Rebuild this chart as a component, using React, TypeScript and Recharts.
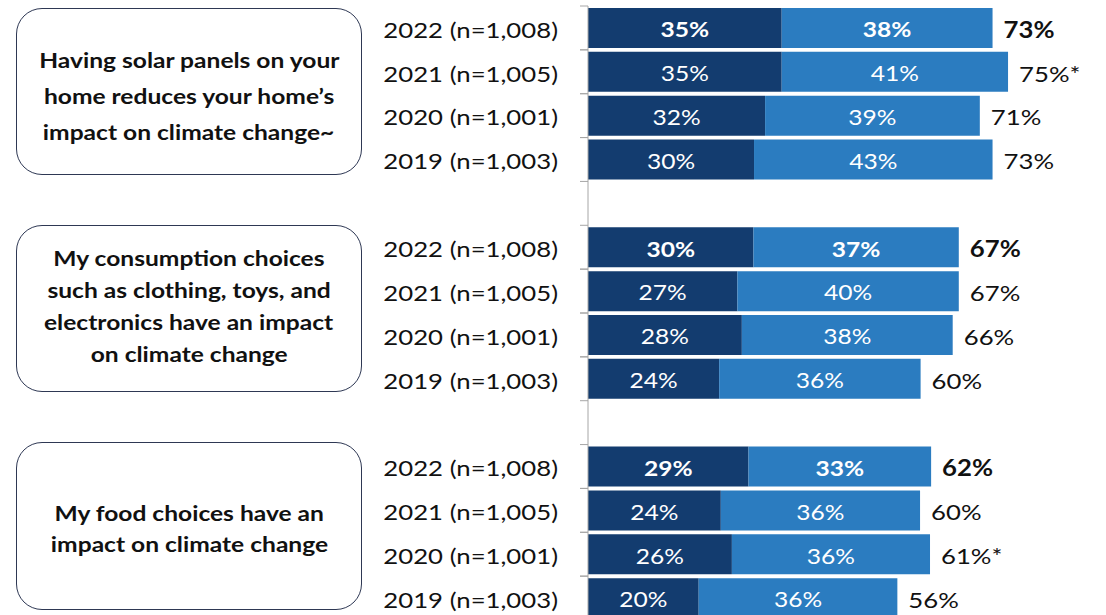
import React from "react";
import { BarChart, Bar, XAxis, YAxis, LabelList } from "recharts";

// ---------- data ----------
const years = ["2022 (n=1,008)", "2021 (n=1,005)", "2020 (n=1,001)", "2019 (n=1,003)"];
const statements = [
  ["Having solar panels on your", "home reduces your home\u2019s", "impact on climate change~"],
  ["My consumption choices", "such as clothing, toys, and", "electronics have an impact", "on climate change"],
  ["My food choices have an", "impact on climate change"],
];
const darkValues1 = [35, 35, 32, 30];
const lightValues1 = [38.1, 40.9, 38.8, 43.1];
const darkLabels1 = ["35%", "35%", "32%", "30%"];
const lightLabels1 = ["38%", "41%", "39%", "43%"];
const totalLabels1 = ["73%", "75%*", "71%", "73%"];

const darkValues2 = [29.9, 27, 27.8, 23.7];
const lightValues2 = [37.1, 40, 38.1, 36.4];
const darkLabels2 = ["30%", "27%", "28%", "24%"];
const lightLabels2 = ["37%", "40%", "38%", "36%"];
const totalLabels2 = ["67%", "67%", "66%", "60%"];

const darkValues3 = [29, 24, 26, 20];
const lightValues3 = [33, 36, 35.8, 35.9];
const darkLabels3 = ["29%", "24%", "26%", "20%"];
const lightLabels3 = ["33%", "36%", "36%", "36%"];
const totalLabels3 = ["62%", "60%", "61%*", "56%"];

const groups = [
  { dark: darkValues1, light: lightValues1, dl: darkLabels1, ll: lightLabels1, tl: totalLabels1 },
  { dark: darkValues2, light: lightValues2, dl: darkLabels2, ll: lightLabels2, tl: totalLabels2 },
  { dark: darkValues3, light: lightValues3, dl: darkLabels3, ll: lightLabels3, tl: totalLabels3 },
];

type Row = {
  key: string;
  year: string;
  dark: number | null;
  light: number | null;
  darkLabel?: string;
  lightLabel?: string;
  totalLabel?: string;
  bold: boolean;
};

const rows: Row[] = [];
groups.forEach((g, gi) => {
  years.forEach((y, i) => {
    rows.push({
      key: `g${gi}-${i}`,
      year: y,
      dark: g.dark[i],
      light: g.light[i],
      darkLabel: g.dl[i],
      lightLabel: g.ll[i],
      totalLabel: g.tl[i],
      bold: i === 0,
    });
  });
  if (gi < groups.length - 1) {
    rows.push({ key: `gap${gi}`, year: "", dark: null, light: null, bold: false });
  }
});
const rowByKey: Record<string, Row> = {};
rows.forEach((r) => (rowByKey[r.key] = r));

// ---------- layout / style ----------
const W = 1106;
const H = 625;
const MARGIN = { top: 6, right: 0, bottom: 5, left: 0 };
const YAXIS_W = 588;
const AXIS_X = MARGIN.left + YAXIS_W;
const BAND = (H - MARGIN.top - MARGIN.bottom) / rows.length;
const DARK = "#133c6f";
const LIGHT = "#2b7cc0";
const FONT = "Lato, 'Open Sans', sans-serif";
const SX = 1.17;

const STxt = ({ x, y, anchor, children, fill, bold, size }: any) => (
  <text
    transform={`translate(${x},${y}) scale(${SX},1)`}
    textAnchor={anchor}
    dominantBaseline="central"
    fill={fill}
    fontFamily={FONT}
    fontSize={size}
    fontWeight={bold ? 700 : 400}
  >
    {children}
  </text>
);

const YTick = (props: any) => {
  const { y, payload } = props;
  const row = rowByKey[payload && payload.value];
  if (!row || row.dark == null) return null;
  return (
    <g>
      <line x1={AXIS_X - 8} x2={AXIS_X} y1={y - BAND / 2} y2={y - BAND / 2} stroke="#a6a6a6" strokeWidth={1} />
      <line x1={AXIS_X - 8} x2={AXIS_X} y1={y + BAND / 2} y2={y + BAND / 2} stroke="#a6a6a6" strokeWidth={1} />
      <STxt x={AXIS_X - 30} y={y + 1} anchor="end" fill="#111" size={22}>
        {row.year}
      </STxt>
    </g>
  );
};

const makeInside = (field: "darkLabel" | "lightLabel") => (props: any) => {
  const { x, y, width, height, value } = props;
  const row = rowByKey[value];
  if (!row || row.dark == null) return null;
  return (
    <STxt x={x + width / 2} y={y + height / 2 + 1} anchor="middle" fill="#fff" bold={row.bold} size={21}>
      {row[field]}
    </STxt>
  );
};

const TotalLabel = (props: any) => {
  const { x, y, width, height, value } = props;
  const row = rowByKey[value];
  if (!row || row.dark == null) return null;
  return (
    <STxt x={x + width + 11} y={y + height / 2 + 1} anchor="start" fill="#111" bold={row.bold} size={22}>
      {row.totalLabel}
    </STxt>
  );
};

const boxes = [
  { top: 8, height: 167, lh: 36, shift: 4 },
  { top: 225, height: 167, lh: 32, shift: -3 },
  { top: 442, height: 168, lh: 31, shift: 2 },
];

export default function App() {
  return (
    <div
      style={{
        position: "fixed",
        left: 0,
        top: 0,
        width: W,
        height: 615,
        overflow: "hidden",
        background: "#fff",
      }}
    >
      {boxes.map((b, i) => (
        <div
          key={i}
          style={{
            position: "absolute",
            left: 16,
            top: b.top,
            width: 346,
            height: b.height,
            boxSizing: "border-box",
            border: "1.5px solid #2e3854",
            borderRadius: 26,
            display: "flex",
            flexDirection: "column",
            alignItems: "center",
            justifyContent: "center",
            fontFamily: FONT,
            fontWeight: 700,
            fontSize: 21,
            color: "#111",
            lineHeight: `${b.lh}px`,
          }}
        >
          <div style={{ position: "relative", top: b.shift, display: "flex", flexDirection: "column", alignItems: "center" }}>
            {statements[i].map((line, j) => (
              <div key={j} style={{ whiteSpace: "nowrap", transform: `scaleX(${SX})` }}>
                {line}
              </div>
            ))}
          </div>
        </div>
      ))}
      <div style={{ position: "absolute", left: 0, top: 0 }}>
        <BarChart
          width={W}
          height={H}
          data={rows}
          layout="vertical"
          margin={MARGIN}
          barSize={40}
        >
          <XAxis type="number" hide domain={[0, 93.6]} scale="linear" />
          <YAxis
            type="category"
            dataKey="key"
            width={YAXIS_W}
            axisLine={{ stroke: "#a6a6a6", strokeWidth: 1 }}
            tickLine={false}
            tick={<YTick />}
            interval={0}
          />
          <Bar dataKey="dark" stackId="a" fill={DARK} isAnimationActive={false}>
            <LabelList dataKey="key" content={makeInside("darkLabel")} />
          </Bar>
          <Bar dataKey="light" stackId="a" fill={LIGHT} isAnimationActive={false}>
            <LabelList dataKey="key" content={makeInside("lightLabel")} />
            <LabelList dataKey="key" content={<TotalLabel />} />
          </Bar>
        </BarChart>
      </div>
    </div>
  );
}
